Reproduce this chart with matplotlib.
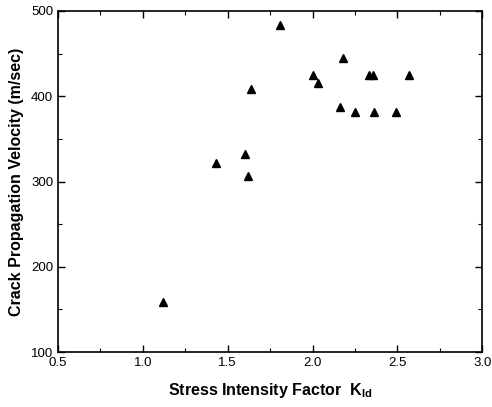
import matplotlib
matplotlib.use("Agg")
import matplotlib.pyplot as plt
from matplotlib.ticker import MultipleLocator

# === DATOS ===
k_id = [1.12, 1.43, 1.60, 1.62, 1.635, 1.81, 2.00, 2.03, 2.16, 2.18,
        2.25, 2.335, 2.355, 2.36, 2.49, 2.57]
velocity = [159, 322, 332, 307, 408, 484, 425, 415, 387, 445,
            382, 425, 425, 382, 382, 425]

x_ticks = [0.5, 1.0, 1.5, 2.0, 2.5, 3.0]
y_ticks = [100, 200, 300, 400, 500]

# === ESTILO ===
plt.rcParams["font.family"] = ["Liberation Sans", "DejaVu Sans"]
plt.rcParams["mathtext.fontset"] = "custom"
plt.rcParams["mathtext.rm"] = "Liberation Sans"
plt.rcParams["mathtext.bf"] = "Liberation Sans:bold"

fig = plt.figure(figsize=(4.92, 4.07), dpi=100)
ax = fig.add_axes([0.118, 0.135, 0.862, 0.838])

ax.plot(k_id, velocity, linestyle="none", marker="^", color="black", markersize=6)

ax.set_xlim(0.5, 3.0)
ax.set_ylim(100, 500)
ax.set_xticks(x_ticks)
ax.set_yticks(y_ticks)
ax.set_xticklabels([f"{t:.1f}" for t in x_ticks])
ax.xaxis.set_minor_locator(MultipleLocator(0.25))
ax.yaxis.set_minor_locator(MultipleLocator(50))
ax.tick_params(which="both", direction="in", top=True, right=True, labelsize=9.5)
ax.tick_params(which="major", length=5, width=1)
ax.tick_params(which="minor", length=3, width=0.8)
for s in ax.spines.values():
    s.set_linewidth(1.2)

ax.set_xlabel(r"Stress Intensity Factor  K$_{\mathbf{Id}}$", fontsize=11.5,
              fontweight="bold", labelpad=9)
ax.set_ylabel("Crack Propagation Velocity (m/sec)", fontsize=11.5,
              fontweight="bold", labelpad=5)

fig.savefig("out.png", dpi=100)
